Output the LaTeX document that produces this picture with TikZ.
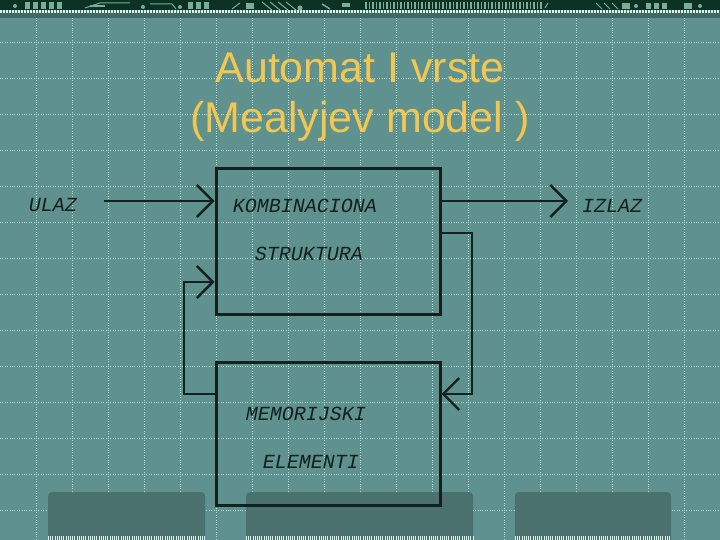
\documentclass[tikz,border=0pt]{standalone}
\usepackage{fontspec}
\setmainfont{Liberation Sans}
\newfontfamily\monofam{Liberation Mono}
\usetikzlibrary{arrows.meta,calc}
\definecolor{bgc}{RGB}{95,145,143}
\definecolor{gridc}{RGB}{175,218,214}
\definecolor{stripc}{RGB}{12,50,38}
\definecolor{bandc}{RGB}{62,106,101}
\definecolor{tabc}{RGB}{74,113,109}
\definecolor{inkc}{RGB}{18,32,32}
\definecolor{titlec}{RGB}{242,198,82}
\definecolor{decoc}{RGB}{120,175,150}
\definecolor{dotc}{RGB}{225,240,232}
\tikzset{
  boxnode/.style={draw=inkc, line width=3pt, inner sep=0pt},
  lbl/.style={text=inkc, inner sep=0pt, font=\monofam\itshape\fontsize{20}{24}\selectfont},
  ttl/.style={text=titlec, inner sep=0pt, font=\fontsize{43}{50}\selectfont},
  conn/.style={draw=inkc, line width=2.4pt},
  tipped/.style={-{Straight Barb[length=16pt,width=32pt,line width=2.4pt]}},
  gridline/.style={draw=gridc, line width=0.8pt, dash pattern=on 1pt off 1.4pt},
  tabshape/.style={fill=tabc, rounded corners=4pt}
}
\begin{document}
\begin{tikzpicture}[x=1pt,y=-1pt]
\clip (0,0) rectangle (720,540);
\fill[bgc] (0,0) rectangle (720,540);
% grid
\foreach \gx in {36,72,...,684} \draw[gridline] (\gx,18) -- (\gx,540);
\foreach \gy in {42,78,...,510} \draw[gridline] (0,\gy) -- (720,\gy);
% top strip
\fill[bandc] (0,0) rectangle (720,18);
\fill[stripc] (0,0) rectangle (720,10.5);
\draw[dotc, line width=3pt, dash pattern=on 1.5pt off 1.5pt] (0,12) -- (720,12);
% strip decoration
\begin{scope}[decoc]
\fill (15,6) circle (2pt);
\foreach \dx in {25,33,41,49,57} \fill (\dx,2) rectangle ++(5,7);
\draw[line width=1pt] (85,8) -- (100,3) -- (130,3);
\fill (90,5) rectangle (105,7);
\fill (143,7) circle (2pt);
\draw[line width=1pt] (150,4) -- (172,4) -- (176,9);
\fill (180,7) circle (2pt);
\foreach \dx in {188,196,204} \fill (\dx,2) rectangle ++(5,7);
\draw[line width=1pt] (232,9) -- (240,3);
\fill (246,3) rectangle (254,9);
\foreach \dx in {262,270,278,286} \draw[line width=1pt] (\dx,2) -- ++(10,8);
\fill (300,8) circle (2.5pt);
\draw[line width=1.5pt] (322,4) -- (330,9);
\fill (342,3) rectangle (350,7);
\foreach \dx in {365,368.5,...,540} \fill (\dx,2) rectangle ++(1.6,7);
\draw[line width=1pt] (545,8) -- (548,3);
\foreach \dx in {596,604,612} \draw[line width=1pt] (\dx,3) -- ++(6,6);
\fill (622,3) rectangle (630,9);
\fill (636,6) circle (2pt);
\foreach \dx in {646,654,662} \fill (\dx,3) rectangle ++(5,6);
\fill (684,3) rectangle (692,9);
\fill (700,6) circle (2pt);
\end{scope}
% bottom tabs
\fill[tabshape] (48,492) rectangle (205,560);
\fill[tabshape] (246,492) rectangle (473,560);
\fill[tabshape] (515,492) rectangle (671,560);
\draw[dotc, line width=4pt, dash pattern=on 1pt off 1.2pt] (48,538) -- (205,538);
\draw[dotc, line width=4pt, dash pattern=on 1pt off 1.2pt] (246,538) -- (473,538);
\draw[dotc, line width=4pt, dash pattern=on 1pt off 1.2pt] (515,538) -- (671,538);
% title
\node[ttl, anchor=base] (title1) at (360,83) {Automat I vrste};
\node[ttl, anchor=base] (title2) at (360,133) {(Mealyjev model )};
% boxes
\node[boxnode, minimum width=224pt, minimum height=145pt] (comb) at (328,241.5) {};
\node[boxnode, minimum width=224pt, minimum height=143pt] (mem) at (328,433.5) {};
% labels
\node[lbl] (ulaz) at (53,205.5) {ULAZ};
\node[lbl] (komb) at (305,205.5) {KOMBINACIONA};
\node[lbl] (strk) at (309,253.5) {STRUKTURA};
\node[lbl] (izlaz) at (612,205.5) {IZLAZ};
\node[lbl] (memo) at (306,414) {MEMORIJSKI};
\node[lbl] (elem) at (311,462) {ELEMENTI};
% connectors
\coordinate (inS) at (104,201);
\coordinate (outE) at (568,201);
\coordinate (fbR) at (472,233);
\coordinate (fbRb) at (472,394);
\coordinate (fbL) at (184,394);
\coordinate (fbLt) at (184,282);
\draw[conn, tipped] (inS) -- (inS -| comb.west);
\draw[conn, tipped] (outE -| comb.east) -- (outE);
\draw[conn, tipped] (fbR -| comb.east) -- (fbR) -- (fbRb) -- (fbRb -| mem.east);
\draw[conn, tipped] (fbL -| mem.west) -- (fbL) -- (fbLt) -- (fbLt -| comb.west);
\end{tikzpicture}
\end{document}
